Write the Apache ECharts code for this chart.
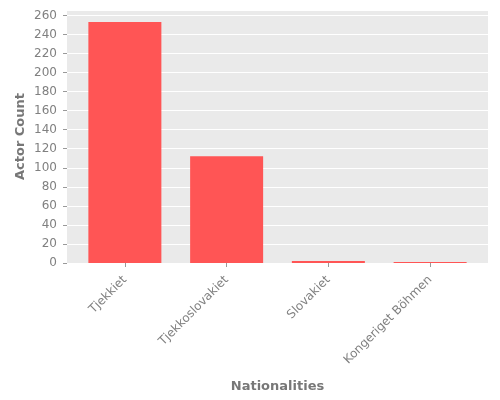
<!DOCTYPE html>
<html>
<head>
<meta charset="utf-8">
<script src="https://cdn.jsdelivr.net/npm/echarts@6/dist/echarts.min.js"></script>
<style>
  html, body { margin: 0; padding: 0; background: #fff; }
  #chart { width: 500px; height: 400px; }
</style>
</head>
<body>
<div id="chart"></div>
<script>
// bar chart: actor count per nationality
const nationalities = ["Tjekkiet", "Tjekkoslovakiet", "Slovakiet", "Kongeriget Böhmen"];
const actorCounts = [253, 112, 2, 1];
const yMax = 265.65;

const font = "DejaVu Sans";
const chart = echarts.init(document.getElementById("chart"));

const option = {
  animation: false,
  textStyle: { fontFamily: font },
  grid: [
    // background + y axis
    { left: 67, right: 12, top: 10, bottom: 137, show: true, backgroundColor: "#EAEAEA", borderWidth: 0 },
    // bars
    { left: 74, right: 19, top: 10, bottom: 137 },
  ],
  xAxis: [
    { gridIndex: 0, type: "category", data: [""], show: false },
    {
      gridIndex: 1,
      type: "category",
      data: nationalities,
      name: "Nationalities",
      nameLocation: "middle",
      nameGap: 117,
      nameMoveOverlap: false,
      nameTextStyle: { color: "#777777", fontSize: 13, fontWeight: "bold", fontFamily: font },
      axisLine: { show: false },
      axisTick: { show: true, alignWithLabel: true, length: 4, lineStyle: { color: "#999999" } },
      axisLabel: { rotate: 45, color: "#808080", fontSize: 12, margin: 15, fontFamily: font },
    },
  ],
  yAxis: [
    {
      gridIndex: 0,
      type: "value",
      min: 0,
      max: yMax,
      interval: 20,
      name: "Actor Count",
      nameLocation: "middle",
      nameGap: 40,
      nameMoveOverlap: false,
      nameTextStyle: { color: "#777777", fontSize: 13, fontWeight: "bold", fontFamily: font },
      axisLine: { show: false },
      axisTick: { show: true, length: 4, lineStyle: { color: "#999999" } },
      axisLabel: {
        color: "#808080",
        fontSize: 12,
        margin: 10,
        fontFamily: font,
        showMaxLabel: false,
        formatter: (v) => (v % 20 === 0 ? String(v) : ""),
      },
      splitLine: { show: true, lineStyle: { color: "#ffffff", width: 1 } },
    },
    { gridIndex: 1, type: "value", min: 0, max: yMax, show: false, splitLine: { show: false } },
  ],
  series: [
    {
      type: "bar",
      xAxisIndex: 1,
      yAxisIndex: 1,
      data: actorCounts,
      barWidth: 73,
      itemStyle: { color: "#FF5555" },
    },
  ],
};

chart.setOption(option);
</script>
</body>
</html>
